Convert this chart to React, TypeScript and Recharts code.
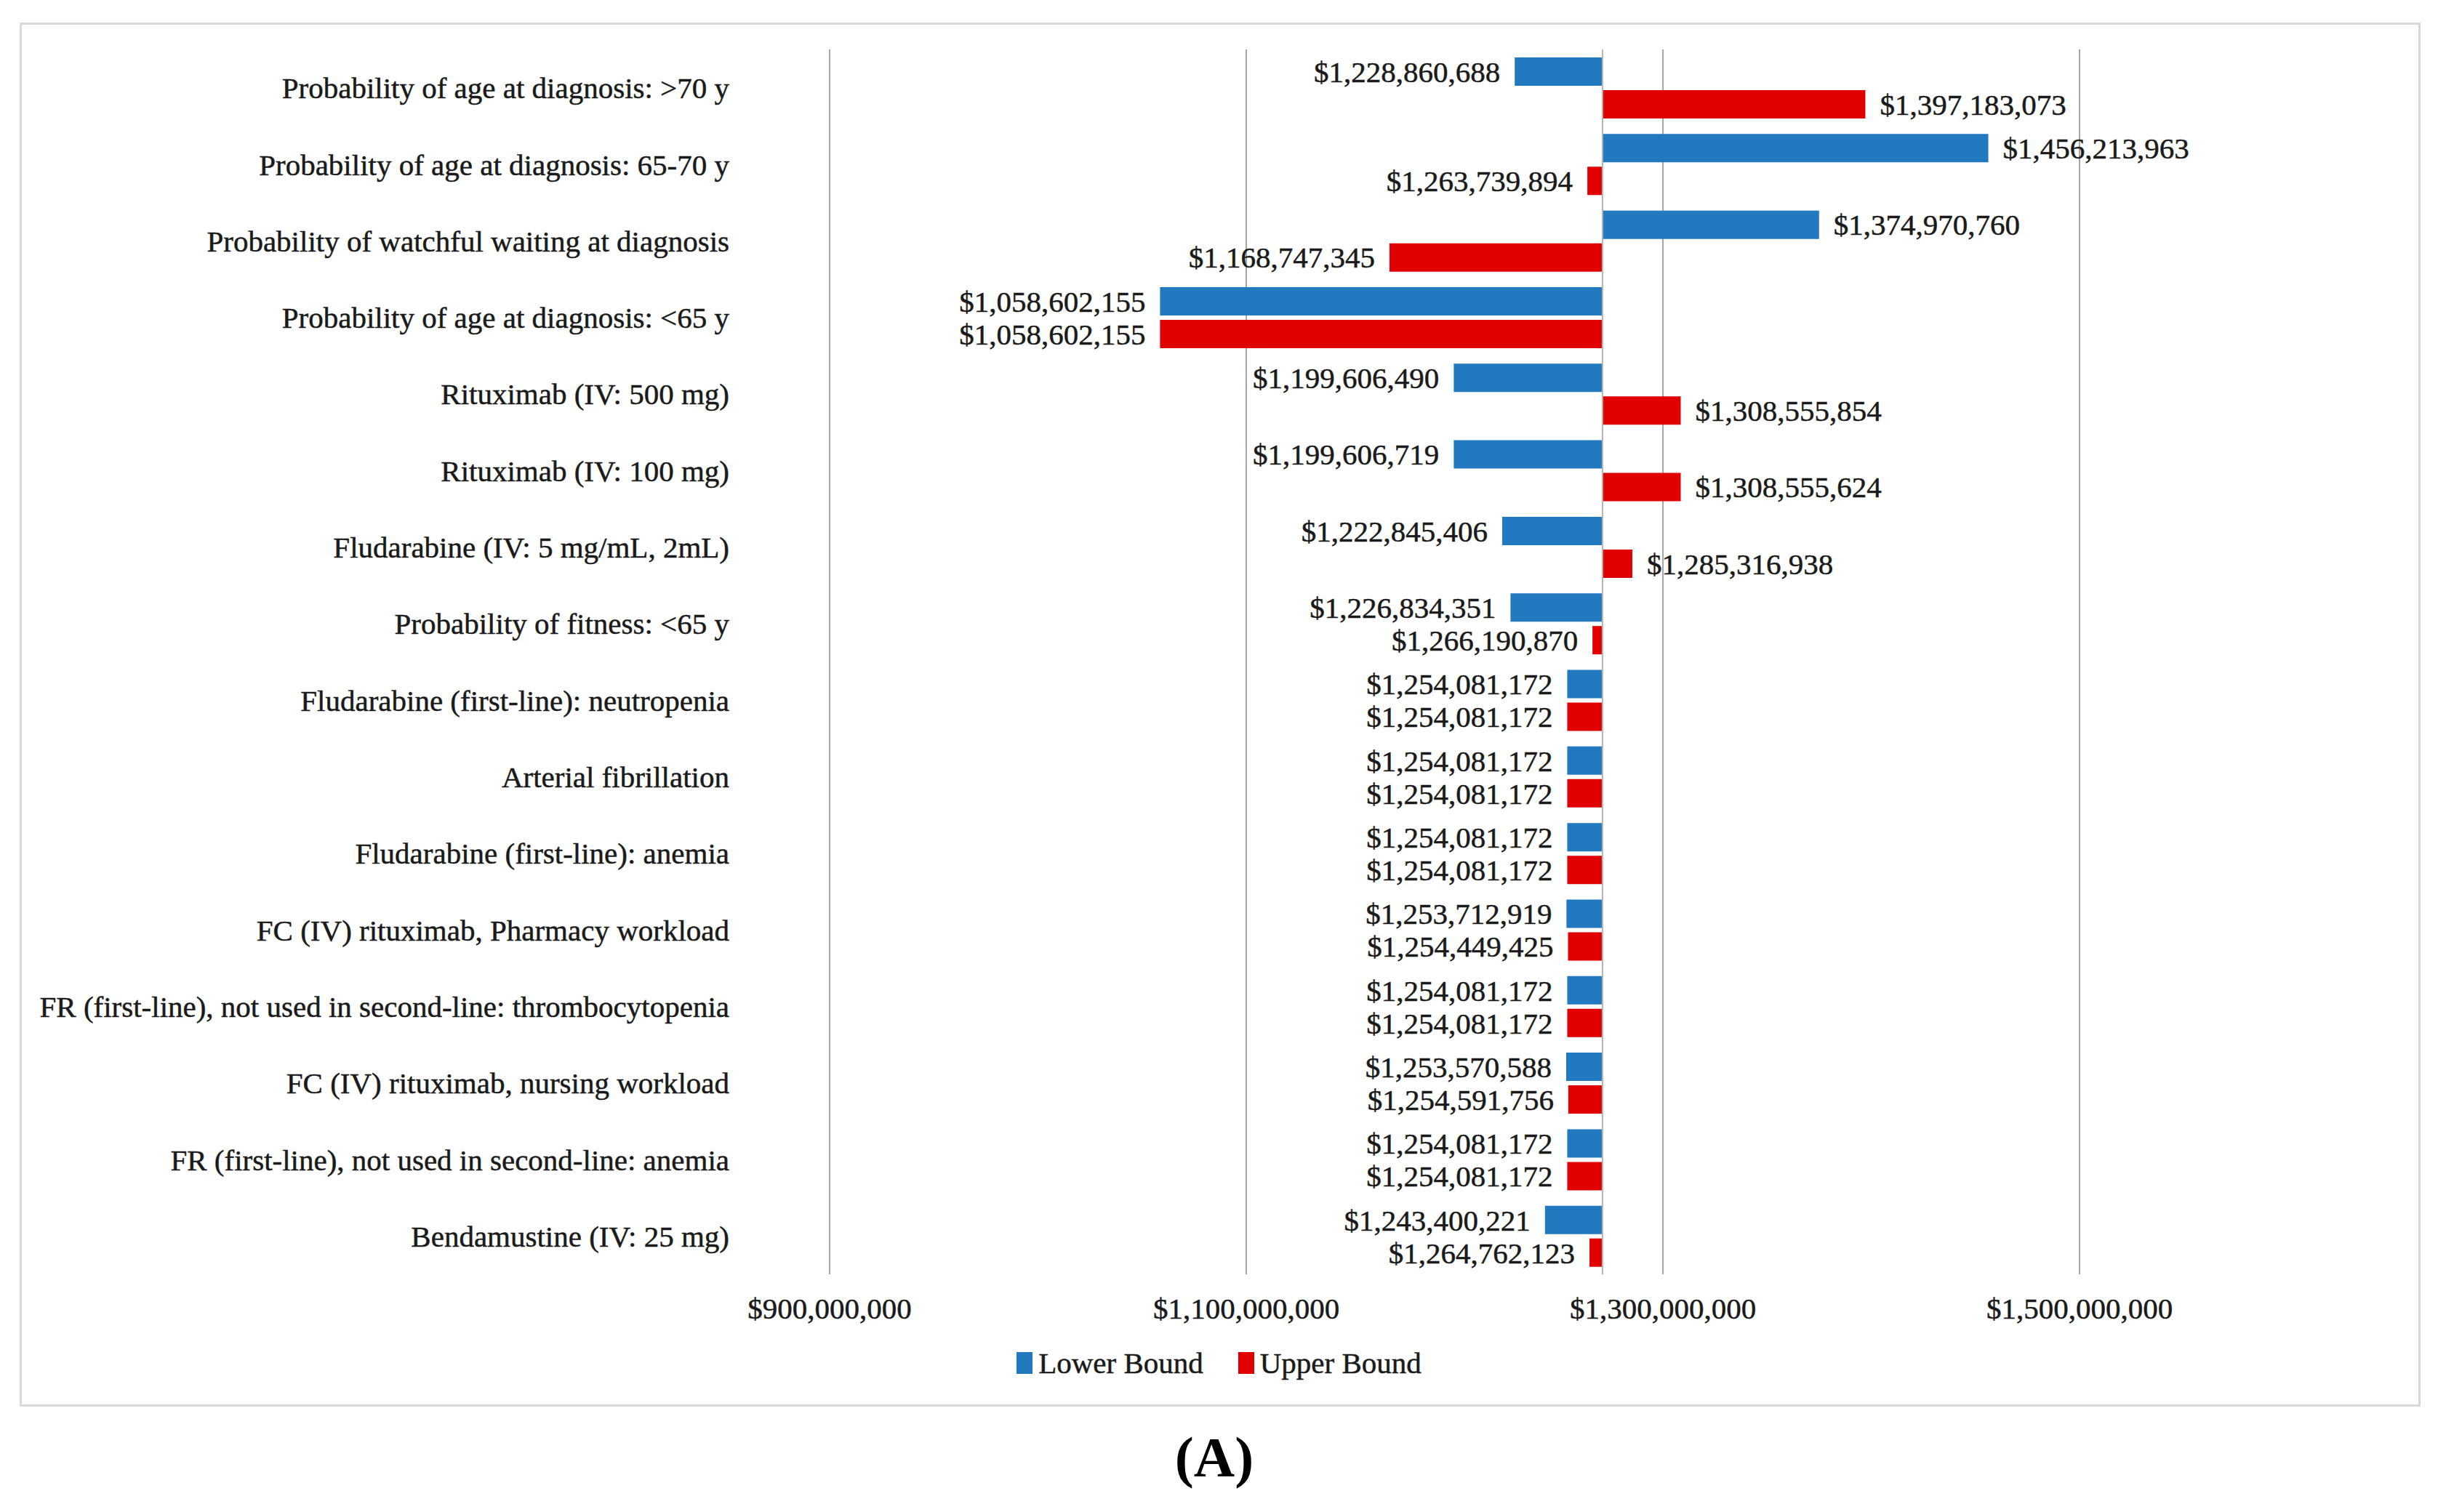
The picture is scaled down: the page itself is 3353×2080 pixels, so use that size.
import React from "react";
import {
  BarChart,
  Bar,
  XAxis,
  YAxis,
  CartesianGrid,
  ReferenceLine,
  LabelList,
  Legend,
} from "recharts";

const PARAMS = [
  "Probability of age at diagnosis: >70 y",
  "Probability of age at diagnosis: 65-70 y",
  "Probability of watchful waiting at diagnosis",
  "Probability of age at diagnosis: <65 y",
  "Rituximab (IV: 500 mg)",
  "Rituximab (IV: 100 mg)",
  "Fludarabine (IV: 5 mg/mL, 2mL)",
  "Probability of fitness: <65 y",
  "Fludarabine (first-line): neutropenia",
  "Arterial fibrillation",
  "Fludarabine (first-line): anemia",
  "FC (IV) rituximab, Pharmacy workload",
  "FR (first-line), not used in second-line: thrombocytopenia",
  "FC (IV) rituximab, nursing workload",
  "FR (first-line), not used in second-line: anemia",
  "Bendamustine (IV: 25 mg)",
];

const LOWER = [
  1228860688, 1456213963, 1374970760, 1058602155, 1199606490, 1199606719,
  1222845406, 1226834351, 1254081172, 1254081172, 1254081172, 1253712919,
  1254081172, 1253570588, 1254081172, 1243400221,
];

const UPPER = [
  1397183073, 1263739894, 1168747345, 1058602155, 1308555854, 1308555624,
  1285316938, 1266190870, 1254081172, 1254081172, 1254081172, 1254449425,
  1254081172, 1254591756, 1254081172, 1264762123,
];

// where the category axis crosses in the original chart
const BASE = 1271000000;
const X_TICKS = [900000000, 1100000000, 1300000000, 1500000000];

const BLUE = "#2379C0";
const RED = "#E00000";
const FONT = '"Liberation Serif", "Times New Roman", serif';
const TEXT = "#1a1a1a";
const FS = 41;

const SERIES = [
  { name: "Lower Bound", color: BLUE },
  { name: "Upper Bound", color: RED },
];

const span = (v: number) => [Math.min(v, BASE), Math.max(v, BASE)];

const data = PARAMS.map((name, i) => ({
  name,
  lower: LOWER[i],
  upper: UPPER[i],
  lowerSpan: span(LOWER[i]),
  upperSpan: span(UPPER[i]),
}));

const money = (v: number) => "$" + Number(v).toLocaleString("en-US");

const tickStyle = {
  fontSize: FS,
  fontFamily: FONT,
  fill: TEXT,
  stroke: TEXT,
  strokeWidth: 0.5,
};

function ValueLabel(props: any) {
  const { x, y, width, height, value } = props;
  const left = Math.min(x, x + width);
  const right = Math.max(x, x + width);
  const onLeft = value < BASE;
  return (
    <text
      x={onLeft ? left - 20 : right + 20}
      y={y + height / 2}
      dy="0.35em"
      textAnchor={onLeft ? "end" : "start"}
      fontFamily={FONT}
      fontSize={FS}
      fill={TEXT}
      stroke={TEXT}
      strokeWidth={0.5}
    >
      {money(value)}
    </text>
  );
}

function LegendBox() {
  return (
    <div
      style={{
        display: "flex",
        justifyContent: "center",
        alignItems: "center",
        height: 50,
        fontFamily: FONT,
        fontSize: FS,
        color: TEXT,
        WebkitTextStroke: "0.5px " + TEXT,
      }}
    >
      {SERIES.map((s, i) => (
        <span
          key={s.name}
          style={{ display: "flex", alignItems: "center", marginLeft: i ? 48 : 0 }}
        >
          <span style={{ width: 22, height: 30, background: s.color, marginRight: 8 }} />
          {s.name}
        </span>
      ))}
    </div>
  );
}

export default function App() {
  return (
    <div style={{ position: "absolute", left: 0, top: 0, width: 3353, height: 2080, background: "#fff" }}>
      <div
        style={{
          position: "absolute",
          left: 27,
          top: 31,
          width: 3302,
          height: 1904,
          boxSizing: "border-box",
          border: "3px solid #d9d9d9",
        }}
      />
      <div style={{ position: "absolute", left: 0, top: 0 }}>
        <BarChart
          width={3353}
          height={1960}
          data={data}
          layout="vertical"
          margin={{ top: 68, right: 493, bottom: 147, left: 0 }}
          barSize={39}
          barGap={6}
        >
          <CartesianGrid horizontal={false} stroke="#a6a6a6" strokeWidth={2} />
          <XAxis
            type="number"
            domain={[900000000, 1500000000]}
            ticks={X_TICKS}
            interval={0}
            tickFormatter={money}
            axisLine={false}
            tickLine={false}
            tickSize={0}
            tickMargin={32}
            height={60}
            tick={tickStyle}
          />
          <YAxis
            type="category"
            dataKey="name"
            width={1141}
            interval={0}
            axisLine={false}
            tickLine={false}
            tickSize={0}
            tickMargin={138}
            tick={tickStyle}
          />
          <Legend
            layout="horizontal"
            verticalAlign="middle"
            align="center"
            wrapperStyle={{ top: 1850, left: 0, width: 3353 }}
            content={() => <LegendBox />}
          />
          <Bar dataKey="lowerSpan" name="Lower Bound" fill={BLUE} isAnimationActive={false}>
            <LabelList dataKey="lower" content={ValueLabel} />
          </Bar>
          <Bar dataKey="upperSpan" name="Upper Bound" fill={RED} isAnimationActive={false}>
            <LabelList dataKey="upper" content={ValueLabel} />
          </Bar>
          <ReferenceLine x={BASE} stroke="#b3b3b3" strokeWidth={2} />
        </BarChart>
      </div>
      <div
        style={{
          position: "absolute",
          left: 1570,
          top: 1967,
          width: 200,
          textAlign: "center",
          fontFamily: FONT,
          fontWeight: "bold",
          fontSize: 78,
          lineHeight: "76px",
          color: "#000",
        }}
      >
        (A)
      </div>
    </div>
  );
}
